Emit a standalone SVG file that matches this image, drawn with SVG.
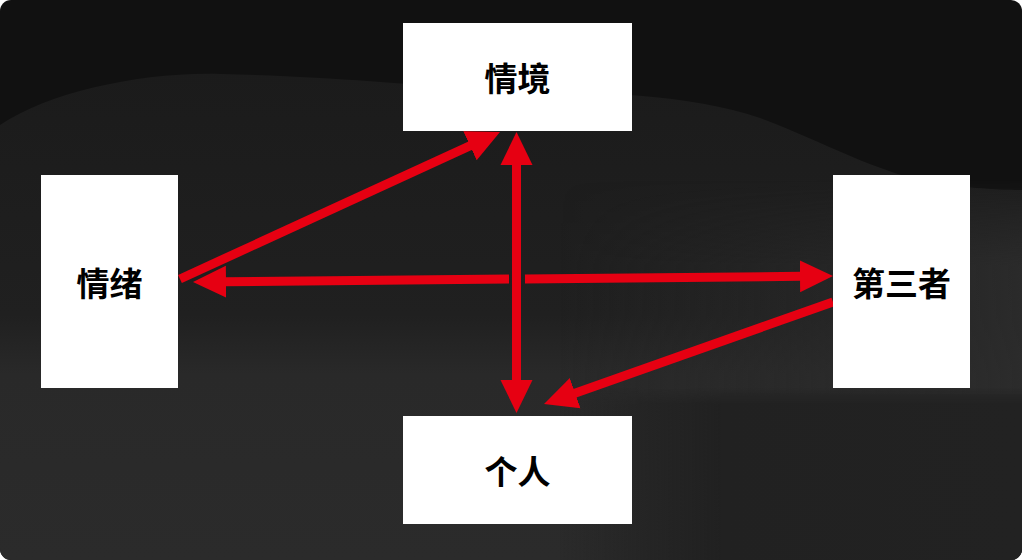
<svg xmlns="http://www.w3.org/2000/svg" width="1022" height="560" viewBox="0 0 1022 560">
  <defs>
    <clipPath id="card"><rect x="0" y="0" width="1022" height="560" rx="11"/></clipPath>
    <linearGradient id="waveG" x1="0" y1="70" x2="0" y2="560" gradientUnits="userSpaceOnUse">
      <stop offset="0" stop-color="#1b1b1b"/>
      <stop offset="0.5" stop-color="#202020"/>
      <stop offset="0.62" stop-color="#292929"/>
      <stop offset="1" stop-color="#2b2b2b"/>
    </linearGradient>
    <linearGradient id="rightLight" x1="560" y1="0" x2="1022" y2="0" gradientUnits="userSpaceOnUse">
      <stop offset="0" stop-color="#2a2a2a" stop-opacity="0"/>
      <stop offset="1" stop-color="#2c2c2c" stop-opacity="0.9"/>
    </linearGradient>
    <linearGradient id="rightLightV" x1="0" y1="180" x2="0" y2="394" gradientUnits="userSpaceOnUse">
      <stop offset="0" stop-color="#ffffff" stop-opacity="0"/>
      <stop offset="0.4" stop-color="#ffffff" stop-opacity="1"/>
      <stop offset="1" stop-color="#ffffff" stop-opacity="1"/>
    </linearGradient>
    <mask id="rightLightM" maskUnits="userSpaceOnUse" x="0" y="0" width="1022" height="560">
      <rect x="540" y="180" width="490" height="214" fill="url(#rightLightV)"/>
    </mask>
    <linearGradient id="lowRightG" x1="560" y1="0" x2="1022" y2="0" gradientUnits="userSpaceOnUse">
      <stop offset="0" stop-color="#202020" stop-opacity="0"/>
      <stop offset="0.35" stop-color="#212121" stop-opacity="1"/>
      <stop offset="1" stop-color="#222222" stop-opacity="1"/>
    </linearGradient>
    <linearGradient id="lowRightV" x1="0" y1="388" x2="0" y2="404" gradientUnits="userSpaceOnUse">
      <stop offset="0" stop-color="#ffffff" stop-opacity="0"/>
      <stop offset="1" stop-color="#ffffff" stop-opacity="1"/>
    </linearGradient>
    <mask id="lowRightM" maskUnits="userSpaceOnUse" x="0" y="0" width="1022" height="560">
      <rect x="540" y="380" width="490" height="190" fill="url(#lowRightV)"/>
    </mask>
    <marker id="ah" viewBox="0 -17 34 34" refX="1" refY="0" markerWidth="34" markerHeight="34" markerUnits="userSpaceOnUse" orient="auto-start-reverse">
      <path d="M0,-16 L33,0 L0,16 z" fill="#e60012"/>
    </marker>
    <style>
      .node rect { fill: #ffffff; }
      .node text { font-family: "Noto Sans CJK SC", "Noto Sans", sans-serif; font-weight: 700; font-size: 33px; fill: #000000; text-anchor: middle; dominant-baseline: central; }
      .conn line { stroke: #e60012; stroke-width: 9; fill: none; }
    </style>
  </defs>

  <g id="background" clip-path="url(#card)">
    <rect x="0" y="0" width="1022" height="560" fill="#111111"/>
    <path d="M0,125 C50,92 140,72 220,74 C320,76 400,84 470,88 C560,92 680,90 760,118 C820,140 880,175 940,184 C980,189 1005,190 1022,190 L1022,560 L0,560 Z" fill="url(#waveG)"/>
    <rect x="540" y="180" width="490" height="214" fill="url(#rightLight)" mask="url(#rightLightM)"/>
    <rect x="540" y="380" width="490" height="190" fill="url(#lowRightG)" mask="url(#lowRightM)"/>
  </g>

  <g id="connectors" class="conn">
    <line x1="180" y1="279" x2="470.9" y2="145.4" marker-end="url(#ah)"/>
    <line x1="516.5" y1="164" x2="516.5" y2="381" marker-start="url(#ah)" marker-end="url(#ah)"/>
    <line x1="509" y1="279.04" x2="225" y2="281.7" marker-end="url(#ah)"/>
    <line x1="525" y1="278.89" x2="801" y2="276.3" marker-end="url(#ah)"/>
    <line x1="833" y1="302" x2="574.2" y2="393.4" marker-end="url(#ah)"/>
  </g>

  <g id="node-qingjing" class="node">
    <rect x="403" y="23" width="229" height="108"/>
    <text x="517.5" y="77">情境</text>
  </g>
  <g id="node-qingxu" class="node">
    <rect x="41" y="175" width="137" height="213"/>
    <text x="109.5" y="282">情绪</text>
  </g>
  <g id="node-disanzhe" class="node">
    <rect x="833" y="175" width="137" height="213"/>
    <text x="901.5" y="282">第三者</text>
  </g>
  <g id="node-geren" class="node">
    <rect x="403" y="416" width="229" height="108"/>
    <text x="517.5" y="470">个人</text>
  </g>
</svg>
